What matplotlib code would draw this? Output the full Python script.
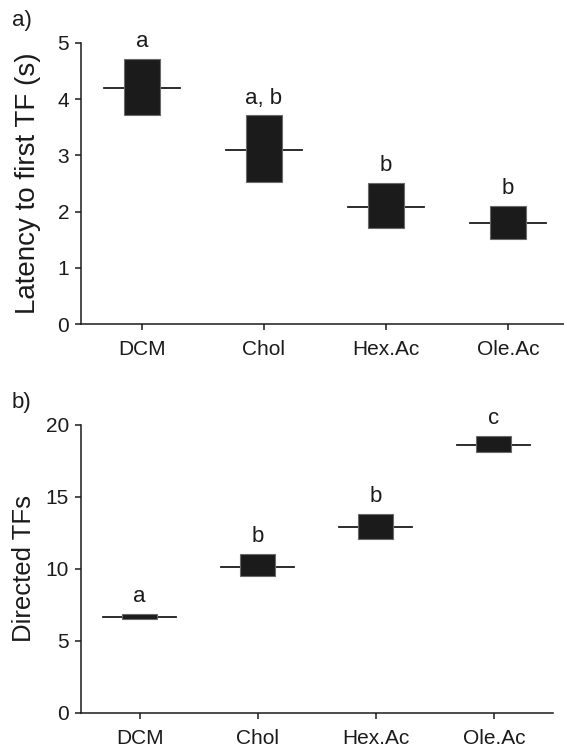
import matplotlib.pyplot as plt
from matplotlib.patches import Rectangle

plt.rcParams["font.family"] = ["Liberation Sans", "DejaVu Sans"]

groups = ["DCM", "Chol", "Hex.Ac", "Ole.Ac"]

# panel a: latency to first TF (s)
lat_low = [3.72, 2.52, 1.71, 1.52]
lat_high = [4.71, 3.71, 2.51, 2.10]
lat_median = [4.20, 3.09, 2.09, 1.80]
lat_letters = ["a", "a, b", "b", "b"]
lat_ticks = [0, 1, 2, 3, 4, 5]

# panel b: directed TFs
dir_low = [6.56, 9.48, 12.10, 18.12]
dir_high = [6.88, 11.03, 13.81, 19.24]
dir_median = [6.65, 10.17, 12.91, 18.61]
dir_letters = ["a", "b", "b", "c"]
dir_ticks = [0, 5, 10, 15, 20]

BOX_W = 0.30
MED_W = 0.62


def draw_panel(ax, low, high, median, letters, ticks, ylabel, ylabel_size, ylabel_pad):
    for i, (lo, hi, md, lab) in enumerate(zip(low, high, median, letters)):
        ax.add_patch(Rectangle((i - BOX_W / 2, lo), BOX_W, hi - lo,
                               facecolor="#1b1b1b", edgecolor="#6a6a6a",
                               linewidth=0.8, zorder=3))
        ax.plot([i - MED_W / 2, i + MED_W / 2], [md, md], color="#1b1b1b",
                linewidth=1.3, zorder=2)
        ax.annotate(lab, xy=(i, hi), xytext=(0, 5), textcoords="offset points",
                    ha="center", va="bottom", fontsize=16, color="#1b1b1b")
    ax.set_xlim(-0.5, 3.5)
    ax.set_ylim(ticks[0], ticks[-1])
    ax.set_xticks(range(len(groups)))
    ax.set_xticklabels(groups)
    ax.set_yticks(ticks)
    ax.set_ylabel(ylabel, fontsize=ylabel_size, color="#1b1b1b", labelpad=ylabel_pad)
    for side in ["top", "right"]:
        ax.spines[side].set_visible(False)
    for side in ["left", "bottom"]:
        ax.spines[side].set_linewidth(1.1)
        ax.spines[side].set_color("#1b1b1b")
    ax.tick_params(direction="out", length=4.5, width=1.1, labelsize=15,
                   colors="#1b1b1b")
    ax.tick_params(axis="x", pad=7)
    ax.tick_params(axis="y", pad=4)
    ax.patch.set_alpha(0)


fig = plt.figure(figsize=(5.64, 7.49), dpi=100)
ax_a = fig.add_axes([0.1436, 0.5674, 0.865, 0.3752])
ax_b = fig.add_axes([0.1431, 0.0481, 0.837, 0.3845])

draw_panel(ax_a, lat_low, lat_high, lat_median, lat_letters, lat_ticks,
           "Latency to first TF (s)", 20, 12)
draw_panel(ax_b, dir_low, dir_high, dir_median, dir_letters, dir_ticks,
           "Directed TFs", 18.5, 7)

fig.text(0.022, 0.973, "a)", fontsize=16, color="#1b1b1b", va="center")
fig.text(0.020, 0.462, "b)", fontsize=16, color="#1b1b1b", va="center")

fig.savefig("out.png", dpi=100)
